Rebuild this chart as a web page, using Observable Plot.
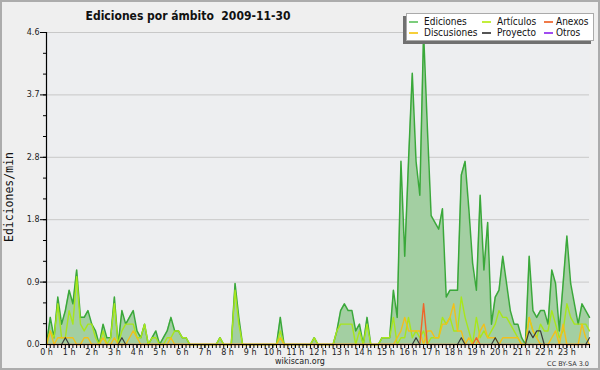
<!DOCTYPE html>
<html>
<head>
<meta charset="utf-8">
<script src="https://cdn.jsdelivr.net/npm/d3@7"></script>
<script src="https://cdn.jsdelivr.net/npm/@observablehq/plot@0.6"></script>
<style>
html, body { margin: 0; padding: 0; background: #efefef; }
#wrap { position: relative; width: 600px; height: 370px; background: #efefef; overflow: hidden; }
#wrap svg { position: absolute; left: 0; top: 0; }
#frame { position: absolute; left: 0; top: 0; width: 600px; height: 370px; box-sizing: border-box; border: 2px solid #acacac; pointer-events: none; }
#title { position: absolute; left: 0; width: 376px; top: 9px; text-align: center; font: bold 12px "DejaVu Sans Condensed", "DejaVu Sans", sans-serif; white-space: pre; color: #111; }
#ylab { position: absolute; left: -51px; top: 190px; width: 120px; height: 14px; line-height: 14px; text-align: center; transform: rotate(-90deg); font: 11.5px "DejaVu Sans Mono", monospace; color: #111; }
#legbox { position: absolute; left: 406px; top: 13px; width: 186px; height: 26px; background: #fff; border: 1px solid #aaa; box-shadow: -3px 3px 0 #707070; }
.lg-line { position: absolute; height: 1.5px; }
.lg-text { position: absolute; font: 10px "DejaVu Sans Condensed", "DejaVu Sans", sans-serif; color: #111; line-height: 12px; white-space: pre; }
#site { position: absolute; left: 0; width: 600px; top: 357px; text-align: center; font: 8px "DejaVu Sans", sans-serif; color: #222; }
#lic { position: absolute; right: 11px; top: 360px; font: 6.5px "DejaVu Sans", sans-serif; color: #333; }
</style>
</head>
<body>
<div id="wrap">
  <div id="chart"></div>
  <div id="title">Ediciones por ámbito  2009-11-30</div>
  <div id="ylab">Ediciones/min</div>
  <div id="legbox"></div>
  <div id="legend"></div>
  <div id="site">wikiscan.org</div>
  <div id="lic">CC BY-SA 3.0</div>
  <div id="frame"></div>
</div>
<script>
// Edits per minute, 10-minute buckets from 0 h to 24 h (145 samples)
const ediciones = [
  0.0,0.4,0.1,0.7,0.3,0.5,0.8,0.6,1.1,0.4,
  0.4,0.5,0.3,0.2,0.0,0.3,0.1,0.1,0.7,0.0,
  0.5,0.3,0.4,0.5,0.2,0.1,0.3,0.0,0.1,0.2,
  0.0,0.1,0.2,0.4,0.2,0.2,0.1,0.1,0.0,0.0,
  0,0,0,0,0,0,0.1,0,0,0,
  0.9,0.4,0,0,0,0,0,0,0,0,
  0,0,0.4,0,0,0,0,0,0,0,
  0,0.1,0,0,0,0,0,0.2,0.5,0.6,
  0.5,0.5,0.2,0.3,0.0,0.4,0.0,0.0,0.0,0.1,
  0.1,0.1,0.8,0.4,2.7,1.3,2.7,4.0,2.7,2.2,
  4.6,3.2,1.9,1.8,1.7,2.0,0.7,0.8,0.8,0.8,
  2.5,2.7,2.0,1.2,0.8,2.2,1.1,1.8,0.3,0.7,
  0.8,1.3,0.9,0.5,0.3,0.3,0.1,0.0,1.3,0.5,
  0.4,0.5,0.5,0.3,1.1,0.9,0.2,0.9,1.6,0.9,
  0.6,0.3,0.6,0.5,0.4
];
const articulos = [
  0.0,0.2,0.1,0.6,0.1,0.1,0.5,0.3,1.0,0.3,
  0.2,0.3,0.3,0.1,0.0,0.2,0.0,0.1,0.6,0.0,
  0.2,0.3,0.3,0.3,0.1,0.1,0.3,0.0,0.1,0.1,
  0.0,0.0,0.1,0.1,0.2,0.2,0.1,0.1,0.0,0.0,
  0,0,0,0,0,0,0.1,0,0,0,
  0.8,0.3,0,0,0,0,0,0,0,0,
  0,0,0.2,0,0,0,0,0,0,0,
  0,0.1,0,0,0,0,0,0.2,0.3,0.3,
  0.3,0.3,0.0,0.2,0.0,0.3,0.0,0.0,0.0,0.1,
  0.1,0.1,0.4,0.0,0.1,0.1,0.4,0.1,0.2,0.1,
  0.2,0.0,0.1,0.1,0.1,0.4,0.3,0.4,0.2,0.2,
  0.7,0.4,0.2,0.0,0.4,0.1,0.2,0.1,0.2,0.3,
  0.5,0.4,0.4,0.3,0.2,0.1,0.0,0.0,0.4,0.2,
  0.1,0.3,0.2,0.2,0.5,0.3,0.1,0.2,0.6,0.4,
  0.3,0.3,0.3,0.3,0.2
];
const discusiones = [
  0,0.2,0,0.1,0.1,0.1,0.1,0.1,0,0,
  0.1,0.1,0,0,0,0.1,0,0,0.1,0,
  0,0,0.1,0.2,0.1,0,0,0,0,0,
  0,0,0,0.1,0,0,0,0,0,0,
  0,0,0,0,0,0,0,0,0,0,
  0,0,0,0,0,0,0,0,0,0,
  0,0,0.1,0,0,0,0,0,0,0,
  0,0,0,0,0,0,0,0,0,0,
  0,0,0,0,0,0,0,0,0,0,
  0,0,0,0.1,0.2,0.4,0.2,0.2,0.2,0.2,
  0.0,0.2,0.2,0.1,0.1,0.3,0.3,0.4,0.6,0.2,
  0.2,0.0,0.1,0.0,0.0,0.2,0.3,0.1,0.1,0.1,
  0.0,0.1,0.1,0.1,0.1,0.1,0.0,0.0,0.4,0.2,
  0.1,0,0,0,0.1,0.2,0,0.3,0,0,
  0,0,0.3,0.1,0
];
const proyecto = [
  0,0,0,0,0,0.1,0,0,0,0,
  0,0,0,0,0,0,0,0,0,0,
  0.1,0,0,0,0,0,0,0,0,0,
  0,0,0,0,0,0,0,0,0,0,
  0,0,0,0,0,0,0,0,0,0,
  0,0,0,0,0,0,0,0,0,0,
  0,0,0,0,0,0,0,0,0,0,
  0,0,0,0,0,0,0,0,0,0,
  0,0,0,0,0,0,0,0,0,0,
  0,0,0,0,0,0,0,0,0.1,0,
  0,0,0,0,0,0,0,0,0,0,
  0.1,0,0,0,0,0,0,0,0,0.1,
  0,0,0,0,0,0,0,0,0.2,0.1,
  0.2,0.2,0,0,0,0,0,0,0,0,
  0,0,0,0,0.1
];
const anexos = [
  0,0,0,0,0,0,0,0,0,0,
  0,0,0,0,0,0,0,0,0,0,
  0,0,0,0,0,0,0,0,0,0,
  0,0,0,0,0,0,0,0,0,0,
  0,0,0,0,0,0,0,0,0,0,
  0,0,0,0,0,0,0,0,0,0,
  0,0,0,0,0,0,0,0,0,0,
  0,0,0,0,0,0,0,0,0,0,
  0,0,0,0,0,0,0,0,0,0,
  0,0,0,0,0,0,0,0,0,0,
  0.6,0,0,0,0,0,0,0,0,0,
  0,0,0,0,0.1,0,0,0,0,0,
  0,0,0,0,0,0,0,0,0,0,
  0,0,0,0,0,0,0,0,0,0,
  0,0,0,0,0
];

const hourTicks = [0,1,2,3,4,5,6,7,8,9,10,11,12,13,14,15,16,17,18,19,20,21,22,23];
const hourLabels = ["0 h","1 h","2 h","3 h","4 h","5 h","6 h","7 h","8 h","9 h","10 h","11 h",
  "12 h","13 h","14 h","15 h","16 h","17 h","18 h","19 h","20 h","21 h","22 h","23 h"];
const yTicks = [0, 0.92, 1.84, 2.76, 3.68, 4.6];
const yTickLabels = ["0.0","0.9","1.8","2.8","3.7","4.6"];

const legendNames  = ["Ediciones","Artículos","Anexos","Discusiones","Proyecto","Otros"];
const legendColors = ["#7ccd7c","#c2ee3c","#f07a48","#f6cf3a","#555555","#a04cf0"];

const colors = {ed: "#3aa83a", edFill: "#a3cfa2", art: "#a8e61c", dis: "#f2c01a", anx: "#f0642a", proy: "#3a3a3a"};

const rows = ediciones.map((v, i) => ({
  t: i / 6, ed: v, art: articulos[i], dis: discusiones[i], proy: proyecto[i], anx: anexos[i]
}));

const minorX = d3.range(0, 145).map(i => i / 6);
const minorY = d3.range(0, 16).map(i => i * 4.6 / 15);

const chart = Plot.plot({
  width: 600,
  height: 370,
  marginTop: 32,
  marginBottom: 26,
  marginLeft: 46,
  marginRight: 11,
  style: {background: "transparent", fontFamily: "DejaVu Sans, sans-serif", fontSize: "8px", color: "#222"},
  x: {domain: [0, 24], label: null},
  y: {domain: [0, 4.6], label: null},
  marks: [
    Plot.frame({fill: "#edeef0", stroke: null}),
    Plot.ruleY(yTicks.slice(1), {stroke: "#c8c8c8", strokeWidth: 1}),
    Plot.areaY(rows, {x: "t", y: "ed", fill: colors.edFill}),
    Plot.lineY(rows, {x: "t", y: "ed", stroke: colors.ed, strokeWidth: 1.5}),
    Plot.lineY(rows, {x: "t", y: "art", stroke: colors.art, strokeWidth: 1.4}),
    Plot.lineY(rows, {x: "t", y: "dis", stroke: colors.dis, strokeWidth: 1.4}),
    Plot.lineY(rows, {x: "t", y: "anx", stroke: colors.anx, strokeWidth: 1.4}),
    Plot.lineY(rows, {x: "t", y: "proy", stroke: colors.proy, strokeWidth: 1.2}),
    Plot.ruleX([0], {stroke: "#000", strokeWidth: 1.2}),
    Plot.ruleY([0], {stroke: "#000", strokeWidth: 1.2}),
    Plot.axisY(minorY, {tickSize: 3, tickFormat: () => "", stroke: "#000"}),
    Plot.axisY(yTicks, {tickSize: 6, tickPadding: 1, stroke: "#000", fill: "#222",
      tickFormat: d => yTickLabels[yTicks.indexOf(d)]}),
    Plot.axisX(minorX, {tickSize: 4, tickFormat: () => "", stroke: "#000"}),
    Plot.axisX(hourTicks, {tickSize: 4, tickPadding: 1, stroke: "#000", fill: "#222",
      tickFormat: d => hourLabels[d]})
  ]
});
document.getElementById("chart").appendChild(chart);

// legend entries (page coordinates of the original layout)
const legendPos = [
  {lx: 409, tx: 424, y: 22}, {lx: 482, tx: 497, y: 22}, {lx: 544, tx: 556, y: 22},
  {lx: 409, tx: 424, y: 33}, {lx: 482, tx: 497, y: 33}, {lx: 544, tx: 556, y: 33}
];
const leg = document.getElementById("legend");
legendNames.forEach((name, i) => {
  const p = legendPos[i];
  const ln = document.createElement("div");
  ln.className = "lg-line";
  ln.style.left = p.lx + "px";
  ln.style.top = (p.y - 1) + "px";
  ln.style.width = "9px";
  ln.style.background = legendColors[i];
  leg.appendChild(ln);
  const tx = document.createElement("div");
  tx.className = "lg-text";
  tx.style.left = p.tx + "px";
  tx.style.top = (p.y - 6) + "px";
  tx.textContent = name;
  leg.appendChild(tx);
});
</script>
</body>
</html>
